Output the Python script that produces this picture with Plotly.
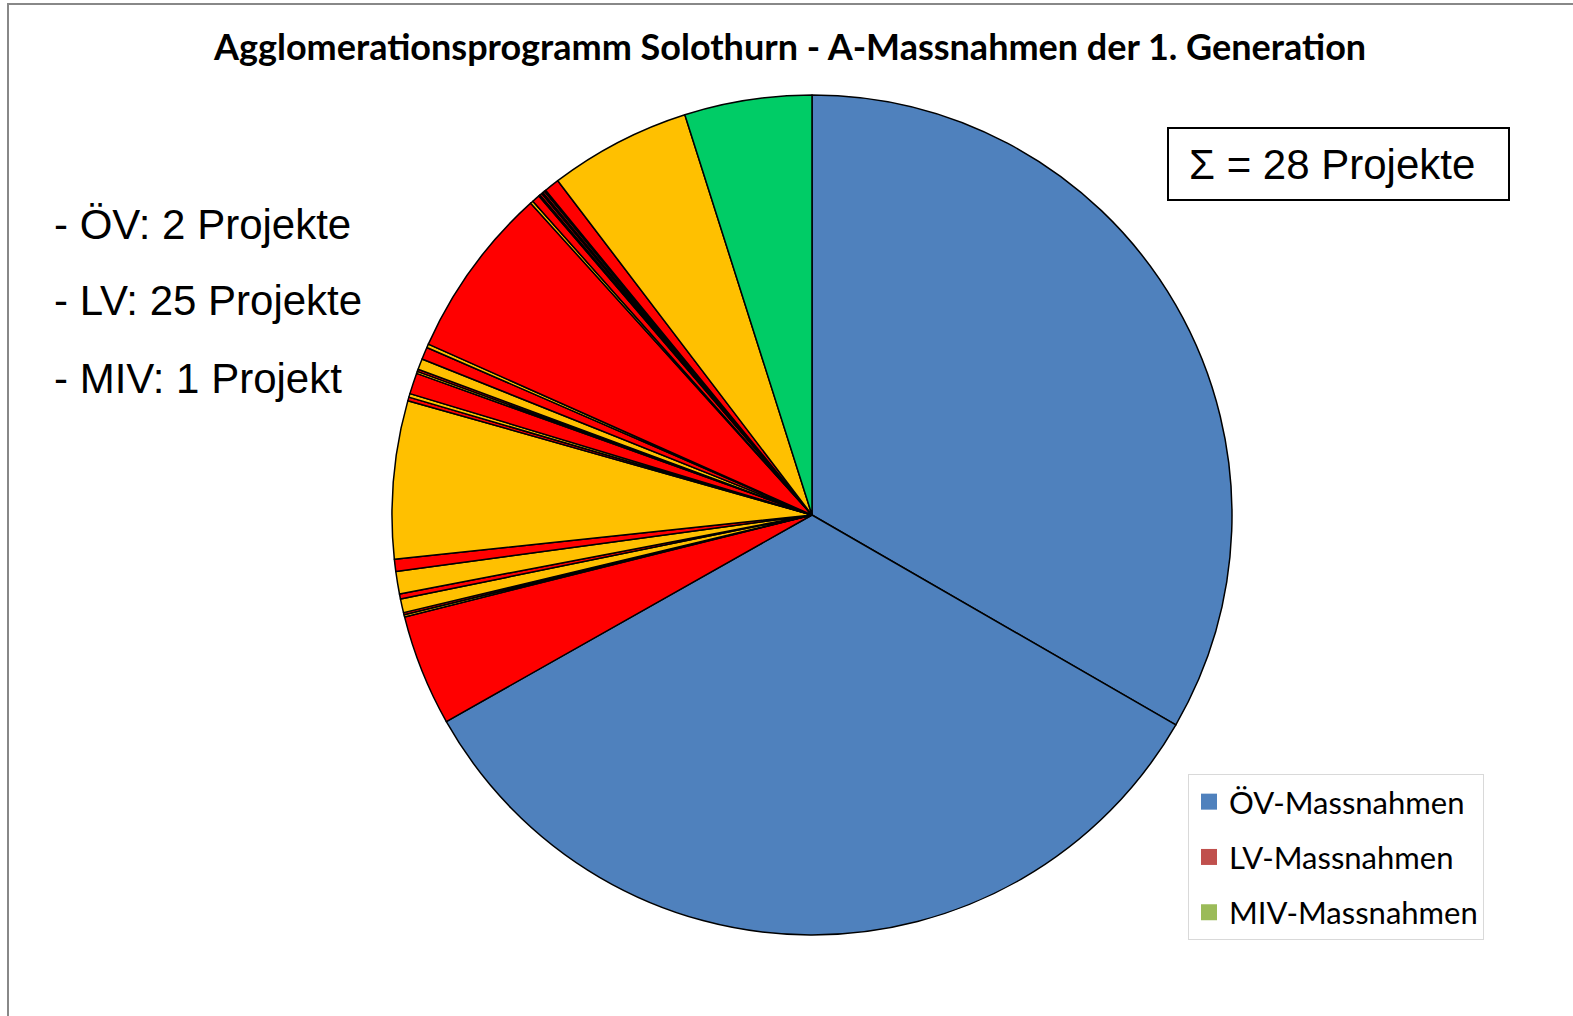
import plotly.graph_objects as go

W, H = 1573, 1016

R_, Y_ = "#FF0000", "#FFC000"

# Slice data (clockwise from 12 o'clock), values in degrees of the pie
ov_values = [119.8, 120.4]
lv_values = [15.4, 0.3, 0.3, 1.9, 0.7, 3.1, 1.7, 21.8, 0.5, 0.5, 2.9, 0.3, 0.3,
             1.5, 1.7, 0.5, 23.9, 0.4, 1.1, 0.2, 0.3, 0.2, 0.3, 0.2, 2.1, 19.6]
lv_colors = [R_, Y_, R_, Y_, R_, Y_, R_, Y_, R_, Y_, R_, Y_, R_,
             Y_, R_, Y_, R_, Y_, R_, Y_, R_, Y_, R_, Y_, R_, Y_]
miv_values = [17.6]

slice_values = ov_values + lv_values + miv_values
slice_labels = ([f"ÖV {i+1}" for i in range(len(ov_values))]
                + [f"LV {i+1}" for i in range(len(lv_values))]
                + [f"MIV {i+1}" for i in range(len(miv_values))])
slice_colors = ["#4F81BD"] * len(ov_values) + lv_colors + ["#00CC66"] * len(miv_values)

legend_labels = ["ÖV-Massnahmen", "LV-Massnahmen", "MIV-Massnahmen"]
legend_colors = ["#4F81BD", "#C0504D", "#9BBB59"]

info_lines = ["- ÖV: 2 Projekte", "- LV: 25 Projekte", "- MIV: 1 Projekt"]
total_text = "Σ = 28 Projekte"
title_text = "Agglomerationsprogramm Solothurn - A-Massnahmen der 1. Generation"

cx, cy, r = 812, 515, 420

fig = go.Figure()
fig.add_trace(go.Pie(
    labels=slice_labels,
    values=slice_values,
    sort=False,
    direction="clockwise",
    rotation=0,
    marker=dict(colors=slice_colors, line=dict(color="black", width=1.5)),
    textinfo="none",
    hoverinfo="label+value",
    showlegend=False,
    domain=dict(x=[(cx - r) / W, (cx + r) / W], y=[1 - (cy + r) / H, 1 - (cy - r) / H]),
))

for i, (lab, col) in enumerate(zip(legend_labels, legend_colors)):
    fig.add_trace(go.Scatter(
        x=[None], y=[None], mode="markers", name=lab,
        marker=dict(symbol="square", size=18, color=col),
        legendgroup=f"g{i}",
    ))

annotations = [
    dict(text="<b>" + title_text + "</b>", x=790 / W, y=1 - 46 / H, xref="paper", yref="paper",
         xanchor="center", yanchor="middle", showarrow=False,
         font=dict(family="Lato", size=36, color="black")),
    dict(text=total_text, x=1187 / W, y=1 - 165 / H, xref="paper", yref="paper",
         xanchor="left", yanchor="middle", showarrow=False,
         font=dict(family="Liberation Sans", size=42, color="black")),
]
for i, t in enumerate(info_lines):
    annotations.append(dict(
        text=t, x=52 / W, y=1 - (224 + 77 * i) / H, xref="paper", yref="paper",
        xanchor="left", yanchor="middle", showarrow=False,
        font=dict(family="Liberation Sans", size=42, color="black")))

shapes = [
    dict(type="rect", xref="paper", yref="paper",
         x0=8 / W, x1=1.05, y0=-0.05, y1=1 - 4 / H,
         line=dict(color="#888888", width=2), fillcolor="rgba(0,0,0,0)"),
    dict(type="rect", xref="paper", yref="paper",
         x0=1168 / W, x1=1509 / W, y0=1 - 200 / H, y1=1 - 128 / H,
         line=dict(color="black", width=2), fillcolor="rgba(0,0,0,0)"),
]

fig.update_layout(
    width=W, height=H,
    margin=dict(l=0, r=0, t=0, b=0),
    paper_bgcolor="white", plot_bgcolor="white",
    xaxis=dict(visible=False), yaxis=dict(visible=False),
    annotations=annotations,
    shapes=shapes,
    legend=dict(
        x=1188 / W, y=1 - 774 / H, xanchor="left", yanchor="top",
        bordercolor="#D9D9D9", borderwidth=1, bgcolor="white",
        font=dict(family="Lato", size=31, color="black"),
        tracegroupgap=12, itemwidth=30,
    ),
)

fig.write_html("out.html", config={"displayModeBar": False},
               post_script="document.body.style.margin='0';")
